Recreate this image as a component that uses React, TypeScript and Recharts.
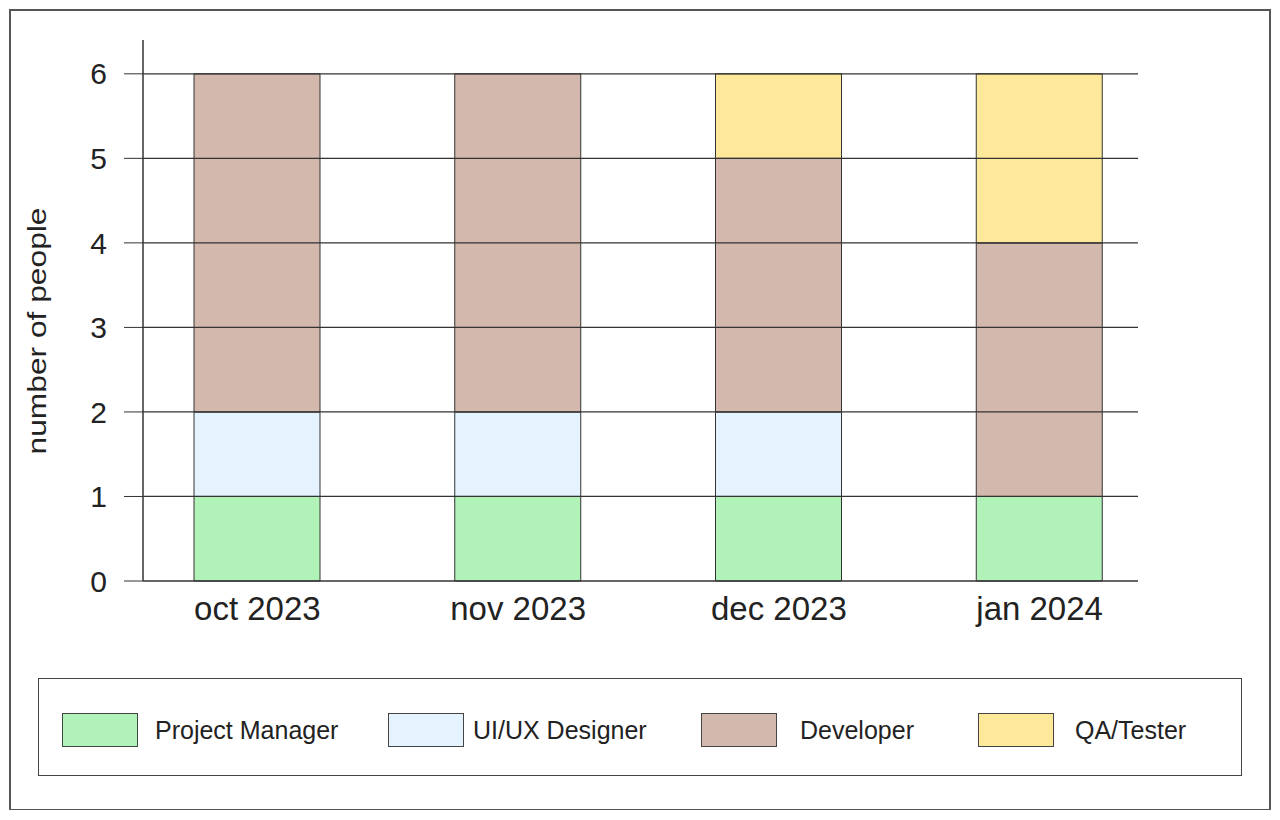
import { BarChart, Bar, XAxis, YAxis, ReferenceLine } from 'recharts';

const months = ['oct 2023', 'nov 2023', 'dec 2023', 'jan 2024'];
const projectManager = [1, 1, 1, 1];
const uiuxDesigner = [1, 1, 1, 0];
const developer = [4, 4, 3, 3];
const qaTester = [0, 0, 1, 2];
const yTicks = [0, 1, 2, 3, 4, 5, 6];

const roles = [
    { key: 'pm', name: 'Project Manager', color: '#b1f2b9' },
    { key: 'ux', name: 'UI/UX Designer', color: '#e4f3fd' },
    { key: 'dev', name: 'Developer', color: '#d3b8ae' },
    { key: 'qa', name: 'QA/Tester', color: '#fee99b' },
];

const data = months.map((month, i) => ({
    month,
    pm: projectManager[i],
    ux: uiuxDesigner[i],
    dev: developer[i],
    qa: qaTester[i],
}));

const font = 'Arial, "Liberation Sans", sans-serif';

// spacing of the legend entries
const legendLayout = [
    { width: 326, gap: 17 },
    { width: 313, gap: 9 },
    { width: 277, gap: 23 },
    { width: 240, gap: 21 },
];

const YLabel = () => (
    <text
        x={26}
        y={320}
        transform="rotate(-90, 26, 320)"
        textAnchor="middle"
        dominantBaseline="central"
        fontSize={25}
        fill="#222"
        fontFamily={font}
        textLength={247}
        lengthAdjust="spacingAndGlyphs"
    >
        number of people
    </text>
);

export default function App() {
    return (
        <div
            style={{
                position: 'relative',
                left: 1,
                top: 1,
                width: 1258,
                height: 798,
                border: '2px solid #555',
                background: '#fff',
                fontFamily: font,
            }}
        >
            <BarChart
                width={1258}
                height={798}
                data={data}
                margin={{ top: 29, right: 131, bottom: 168, left: 0 }}
            >
                <XAxis
                    dataKey="month"
                    height={60}
                    padding={{ left: -16, right: -32 }}
                    tickLine={false}
                    tickSize={0}
                    tickMargin={16}
                    axisLine={{ stroke: '#333', strokeWidth: 1.5 }}
                    tick={{ fontSize: 33, fill: '#222', fontFamily: font }}
                />
                <YAxis
                    width={132}
                    domain={[0, 6.4]}
                    ticks={yTicks}
                    tickSize={19}
                    tickMargin={17}
                    axisLine={{ stroke: '#333', strokeWidth: 1.5 }}
                    tickLine={{ stroke: '#333' }}
                    tick={{ fontSize: 30, fill: '#222', fontFamily: font }}
                    label={<YLabel />}
                />
                {roles.map((r) => (
                    <Bar
                        key={r.key}
                        dataKey={r.key}
                        name={r.name}
                        stackId="a"
                        fill={r.color}
                        stroke="#333"
                        strokeWidth={1}
                        barSize={126}
                        isAnimationActive={false}
                    />
                ))}
                {yTicks.slice(1).map((t) => (
                    <ReferenceLine key={t} y={t} stroke="#333" strokeWidth={1.2} />
                ))}
            </BarChart>
            <div
                style={{
                    position: 'absolute',
                    left: 27,
                    top: 667,
                    width: 1204,
                    height: 98,
                    boxSizing: 'border-box',
                    border: '1.5px solid #444',
                    display: 'flex',
                    alignItems: 'center',
                    paddingLeft: 23,
                    paddingTop: 6,
                }}
            >
                {roles.map((r, i) => (
                    <div
                        key={r.key}
                        style={{ display: 'flex', alignItems: 'center', width: legendLayout[i].width }}
                    >
                        <div
                            style={{
                                width: 76,
                                height: 34,
                                boxSizing: 'border-box',
                                background: r.color,
                                border: '1px solid #444',
                                marginRight: legendLayout[i].gap,
                            }}
                        />
                        <span style={{ fontSize: 25, color: '#222' }}>{r.name}</span>
                    </div>
                ))}
            </div>
        </div>
    );
}
